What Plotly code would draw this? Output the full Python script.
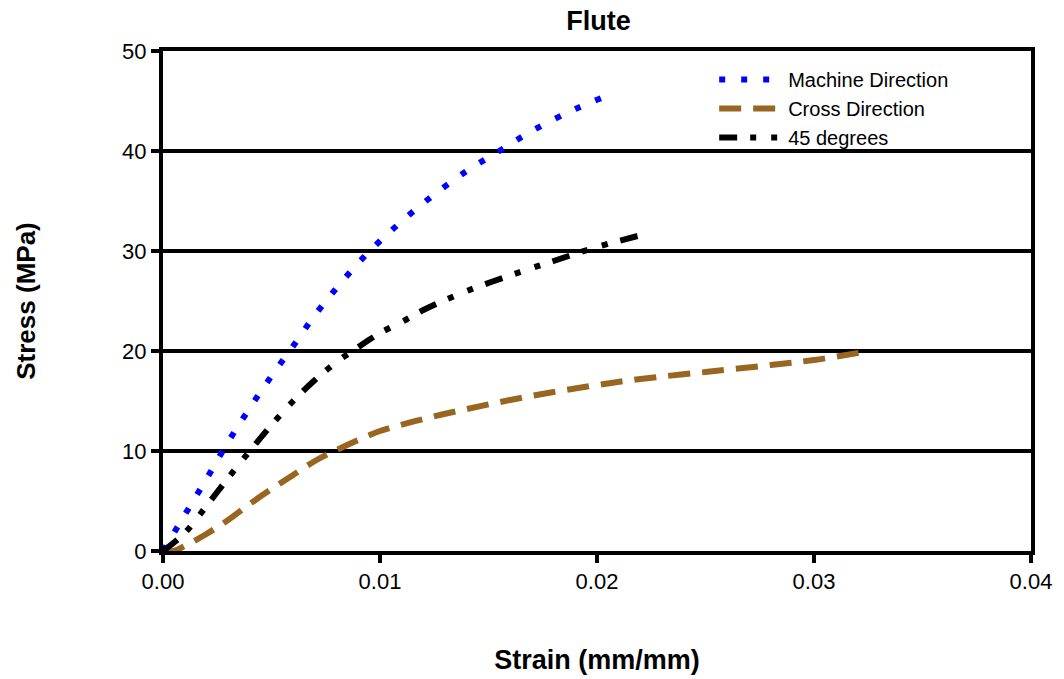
import plotly.graph_objects as go

# Stress-strain data for flute specimens (strain in mm/mm, stress in MPa)
md_strain = [0.0, 0.001, 0.002, 0.003, 0.004, 0.005, 0.006, 0.007, 0.008, 0.009,
             0.010, 0.012, 0.014, 0.0155, 0.017, 0.019, 0.0208]
md_stress = [0.0, 3.6, 7.2, 10.9, 14.3, 17.5, 20.5, 23.6, 26.3, 28.8,
             31.0, 34.8, 38.0, 40.0, 42.0, 44.2, 45.8]

cd_strain = [0.0, 0.0005, 0.001, 0.002, 0.003, 0.004, 0.005, 0.006, 0.007, 0.008,
             0.009, 0.010, 0.012, 0.014, 0.016, 0.018, 0.020, 0.022, 0.025,
             0.028, 0.030, 0.0323]
cd_stress = [0.0, 0.0, 0.5, 1.7, 3.1, 4.7, 6.2, 7.6, 9.0, 10.1,
             11.1, 12.0, 13.2, 14.2, 15.1, 15.9, 16.6, 17.2, 17.9,
             18.6, 19.1, 19.9]

d45_strain = [0.0, 0.001, 0.002, 0.003, 0.004, 0.005, 0.006, 0.007, 0.008, 0.009,
              0.010, 0.011, 0.012, 0.014, 0.0166, 0.018, 0.020, 0.0224]
d45_stress = [0.0, 1.8, 4.5, 7.3, 10.0, 12.6, 15.0, 17.1, 18.9, 20.4,
              21.8, 22.9, 24.1, 26.0, 28.0, 29.0, 30.4, 31.8]

x_ticks = [0.0, 0.01, 0.02, 0.03, 0.04]
y_ticks = [0, 10, 20, 30, 40, 50]

FONT = "Liberation Sans, Arial, sans-serif"

fig = go.Figure()
fig.add_trace(go.Scatter(
    x=md_strain, y=md_stress, mode="lines", name="Machine Direction",
    line=dict(color="#0000ff", width=6, dash="6px,16px", shape="spline"),
))
fig.add_trace(go.Scatter(
    x=cd_strain, y=cd_stress, mode="lines", name="Cross Direction",
    line=dict(color="#996622", width=6, dash="22px,12px", shape="spline"),
))
fig.add_trace(go.Scatter(
    x=d45_strain, y=d45_stress, mode="lines", name="45 degrees",
    line=dict(color="#000000", width=6, dash="18px,13px,6px,15px,6px,13px", shape="spline"),
))

axis_common = dict(
    showline=True, linecolor="black", linewidth=4, mirror=True,
    ticks="outside", ticklen=8, tickwidth=4, tickcolor="black",
    zeroline=False, automargin=False,
    tickfont=dict(family=FONT, size=22, color="black"),
)

fig.update_xaxes(
    range=[0, 0.04], tickvals=x_ticks, tickformat=".2f", showgrid=False,
    title=dict(text="<b>Strain (mm/mm)</b>", font=dict(family=FONT, size=27, color="black"),
               standoff=58),
    **axis_common,
)
fig.update_yaxes(
    range=[0, 50], tickvals=y_ticks, showgrid=True, gridcolor="black", gridwidth=4,
    title=dict(text="<b>Stress (MPa)</b>", font=dict(family=FONT, size=26, color="black"),
               standoff=80),
    **axis_common,
)

fig.update_layout(
    width=1064, height=679,
    margin=dict(l=163, r=33, t=51, b=128),
    paper_bgcolor="white", plot_bgcolor="white",
    title=dict(text="<b>Flute</b>", x=0.5625, xanchor="center", y=0.97, yanchor="middle",
               font=dict(family=FONT, size=27, color="black")),
    legend=dict(
        x=0.635, y=0.982, xanchor="left", yanchor="top",
        bgcolor="rgba(0,0,0,0)", borderwidth=0,
        font=dict(family=FONT, size=20, color="black"),
        itemwidth=64,
        tracegroupgap=0,
    ),
    showlegend=True,
)

fig.write_html("out.html")
